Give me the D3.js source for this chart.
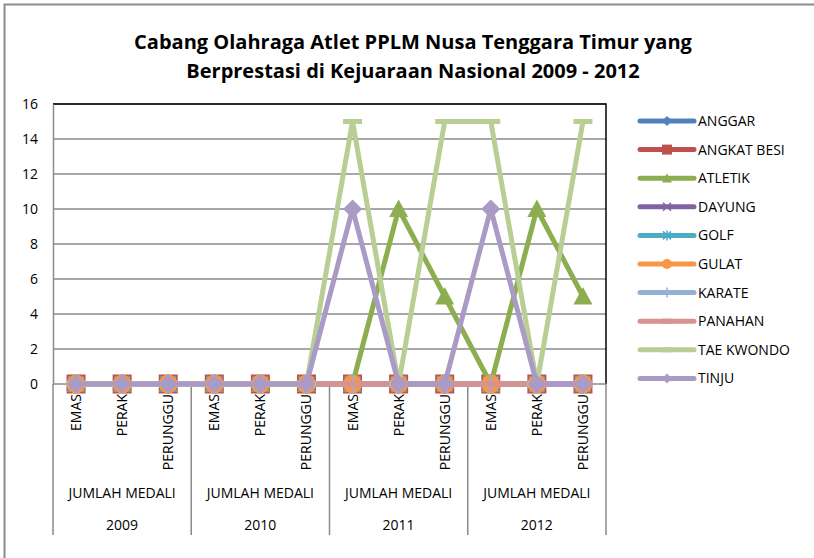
<!doctype html>
<html>
<head>
<meta charset="utf-8">
<style>
  body { margin: 0; background: #fff; }
  text { font-family: "Open Sans", sans-serif; fill: #000; }
</style>
<script src="https://d3js.org/d3.v7.min.js"></script>
</head>
<body>
<svg width="814" height="558"></svg>
<script>
// --- data ---
var years = ["2009", "2010", "2011", "2012"];
var medals = ["EMAS", "PERAK", "PERUNGGU"];
var groupLabel = "JUMLAH MEDALI";
var yTicks = [0, 2, 4, 6, 8, 10, 12, 14, 16];

var seriesNames = ["ANGGAR", "ANGKAT BESI", "ATLETIK", "DAYUNG", "GOLF", "GULAT", "KARATE", "PANAHAN", "TAE KWONDO", "TINJU"];
var anggar     = [0, 0, 0, 0, 0, 0, 0, 0, 0, 0, 0, 0];
var angkatBesi = [0, 0, 0, 0, 0, 0, 0, 0, 0, 0, 0, 0];
var atletik    = [0, 0, 0, 0, 0, 0, 0, 10, 5, 0, 10, 5];
var dayung     = [0, 0, 0, 0, 0, 0, 0, 0, 0, 0, 0, 0];
var golf       = [0, 0, 0, 0, 0, 0, 0, 0, 0, 0, 0, 0];
var gulat      = [0, 0, 0, 0, 0, 0, 0, 0, 0, 0, 0, 0];
var karate     = [0, 0, 0, 0, 0, 0, 0, 0, 0, 0, 0, 0];
var panahan    = [0, 0, 0, 0, 0, 0, 0, 0, 0, 0, 0, 0];
var taeKwondo  = [0, 0, 0, 0, 0, 0, 15, 0, 15, 15, 0, 15];
var tinju      = [0, 0, 0, 0, 0, 0, 10, 0, 0, 10, 0, 0];

var seriesValues = [anggar, angkatBesi, atletik, dayung, golf, gulat, karate, panahan, taeKwondo, tinju];
var colors = ["#4F81BD", "#C0504D", "#8DAE50", "#8064A2", "#4BACC6", "#F79646", "#93B1D7", "#D69391", "#B9CE95", "#A99BC5"];
var markers = ["diamond", "square", "triangle", "x", "star", "circle", "plus", "dash", "dash", "diamond"];

// categories: one per (year, medal)
var cats = [];
years.forEach(function (y) { medals.forEach(function (m) { cats.push(y + "|" + m); }); });

var svg = d3.select("svg");

// chart border
svg.append("rect")
    .attr("x", 4.5).attr("y", 4.5)
    .attr("width", 830).attr("height", 580)
    .attr("fill", "none").attr("stroke", "#8c8c8c").attr("stroke-width", 2);

var plot = { left: 53, right: 606, top: 104, bottom: 384 };

var x = d3.scalePoint().domain(cats).range([plot.left, plot.right]).padding(0.5);
var xGroup = d3.scaleBand().domain(years).range([plot.left, plot.right]);
var y = d3.scaleLinear().domain([0, 16]).range([plot.bottom, plot.top]);

// gridlines
svg.append("g").selectAll("line").data(yTicks.slice(1)).enter().append("line")
    .attr("x1", plot.left).attr("x2", plot.right)
    .attr("y1", function (d) { return y(d); }).attr("y2", function (d) { return y(d); })
    .attr("stroke", "#8a8a8a").attr("stroke-width", 1.5);

// plot area outline (top/right black)
svg.append("path")
    .attr("d", "M" + plot.left + "," + plot.top + "H" + plot.right + "V" + plot.bottom)
    .attr("fill", "none").attr("stroke", "#000").attr("stroke-width", 1.5);

// y axis
var yAxis = svg.append("g").attr("transform", "translate(" + plot.left + ",0)")
    .call(d3.axisLeft(y).tickValues(yTicks).tickSize(0).tickPadding(15));
yAxis.select(".domain").attr("stroke", "#8a8a8a").attr("stroke-width", 1.5);
yAxis.selectAll("text").style("font-size", "14px").style("font-family", "'Open Sans', sans-serif");

// x axis line
svg.append("line")
    .attr("x1", plot.left).attr("x2", plot.right)
    .attr("y1", plot.bottom).attr("y2", plot.bottom)
    .attr("stroke", "#8a8a8a").attr("stroke-width", 1.5);

// group separators
var seps = years.map(function (d) { return xGroup(d); }).concat([plot.right]);
svg.append("g").selectAll("line").data(seps).enter().append("line")
    .attr("x1", function (d) { return d; }).attr("x2", function (d) { return d; })
    .attr("y1", plot.bottom).attr("y2", 535)
    .attr("stroke", "#8a8a8a").attr("stroke-width", 1.5);

// medal labels (rotated)
svg.append("g").selectAll("text").data(cats).enter().append("text")
    .attr("transform", function (d) { return "translate(" + (x(d) + 5) + "," + 394 + ") rotate(-90)"; })
    .attr("text-anchor", "end")
    .style("font-size", "14px")
    .text(function (d) { return d.split("|")[1]; });

// group labels
svg.append("g").selectAll("text").data(years).enter().append("text")
    .attr("x", function (d) { return xGroup(d) + xGroup.bandwidth() / 2; })
    .attr("y", 498)
    .attr("text-anchor", "middle")
    .style("font-size", "14px")
    .text(groupLabel);

svg.append("g").selectAll("text").data(years).enter().append("text")
    .attr("x", function (d) { return xGroup(d) + xGroup.bandwidth() / 2; })
    .attr("y", 530)
    .attr("text-anchor", "middle")
    .style("font-size", "14px")
    .text(function (d) { return d; });

// marker drawing
function drawMarker(sel, type, s, color) {
    var r = s / 2;
    if (type === "diamond") {
        sel.append("path").attr("d", "M0," + (-r) + "L" + r + ",0L0," + r + "L" + (-r) + ",0Z").attr("fill", color);
    } else if (type === "square") {
        sel.append("rect").attr("x", -r).attr("y", -r).attr("width", s).attr("height", s).attr("fill", color);
    } else if (type === "triangle") {
        sel.append("path").attr("d", "M0," + (-r) + "L" + r + "," + (r * 0.85) + "L" + (-r) + "," + (r * 0.85) + "Z").attr("fill", color);
    } else if (type === "circle") {
        sel.append("circle").attr("r", r).attr("fill", color);
    } else if (type === "x") {
        var k = r * 0.8;
        sel.append("path").attr("d", "M" + (-k) + "," + (-k) + "L" + k + "," + k + "M" + (-k) + "," + k + "L" + k + "," + (-k))
            .attr("stroke", color).attr("stroke-width", Math.max(1.5, s / 8));
    } else if (type === "star") {
        var k2 = r * 0.8;
        sel.append("path").attr("d", "M" + (-k2) + "," + (-k2) + "L" + k2 + "," + k2 + "M" + (-k2) + "," + k2 + "L" + k2 + "," + (-k2) + "M0," + (-r) + "V" + r)
            .attr("stroke", color).attr("stroke-width", Math.max(1.5, s / 8));
    } else if (type === "plus") {
        sel.append("path").attr("d", "M0," + (-r) + "V" + r + "M" + (-r) + ",0H" + r)
            .attr("stroke", color).attr("stroke-width", Math.max(1.5, s / 8));
    } else if (type === "dash") {
        sel.append("rect").attr("x", -r).attr("y", -2.5).attr("width", s).attr("height", 5).attr("fill", color);
    }
}

var line = d3.line()
    .x(function (d, i) { return x(cats[i]); })
    .y(function (d) { return y(d); });

seriesValues.forEach(function (vals, si) {
    var g = svg.append("g");
    g.append("path")
        .attr("d", line(vals))
        .attr("fill", "none")
        .attr("stroke", colors[si])
        .attr("stroke-width", 5)
        .attr("stroke-linejoin", "round")
        .attr("stroke-linecap", "round");
    vals.forEach(function (v, i) {
        var m = g.append("g").attr("transform", "translate(" + x(cats[i]) + "," + y(v) + ")");
        drawMarker(m, markers[si], 19, colors[si]);
    });
});

// legend
var legend = svg.append("g").selectAll("g").data(seriesNames).enter().append("g")
    .attr("transform", function (d, i) { return "translate(640," + (121 + i * 28.6) + ")"; });
legend.append("line")
    .attr("x1", 0).attr("x2", 54)
    .attr("stroke", function (d, i) { return colors[i]; })
    .attr("stroke-width", 5).attr("stroke-linecap", "round");
legend.each(function (d, i) {
    var m = d3.select(this).append("g").attr("transform", "translate(27,0)");
    drawMarker(m, markers[i], 10, colors[i]);
});
legend.append("text")
    .attr("x", 58).attr("dy", "0.35em")
    .style("font-size", "14px")
    .text(function (d) { return d; });

// title
var title = svg.append("text").attr("text-anchor", "middle").style("font-size", "20px").style("font-weight", "bold");
title.append("tspan").attr("x", 413).attr("y", 49).text("Cabang Olahraga Atlet PPLM Nusa Tenggara Timur yang");
title.append("tspan").attr("x", 413).attr("y", 78).text("Berprestasi di Kejuaraan Nasional 2009 - 2012");
</script>
</body>
</html>
